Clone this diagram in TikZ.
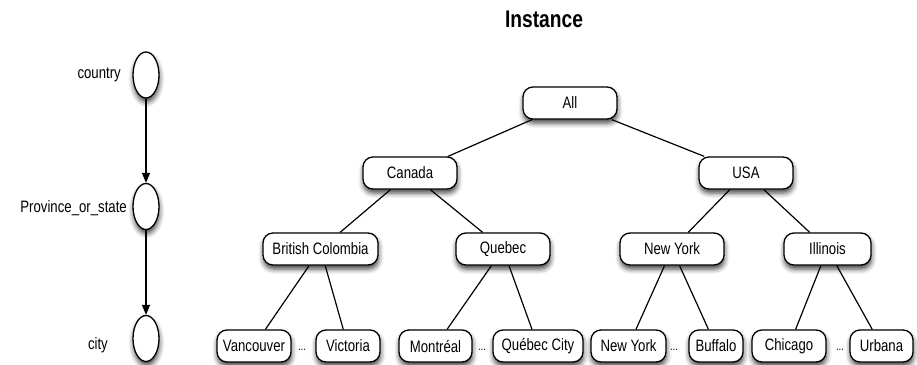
\documentclass[tikz,border=0pt]{standalone}
\usepackage{fontspec}
\setmainfont{Liberation Sans}[FakeStretch=0.8]
\usetikzlibrary{shapes.geometric,shadows.blur,arrows.meta}
\begin{document}
\begin{tikzpicture}[x=1pt,y=-1pt,
  every node/.style={font=\fontsize{16.5}{19}\selectfont, inner sep=0pt},
  soft shadow/.style={blur shadow={shadow xshift=0.5pt, shadow yshift=-4pt, shadow blur radius=5pt, shadow opacity=75}},
  valbox/.style={draw=black, line width=1.3pt, fill=white, rounded corners=10pt,
    minimum height=32pt, soft shadow},
  levelnode/.style={draw=black, line width=1.3pt, fill=white, ellipse,
    minimum width=26pt, minimum height=46pt, soft shadow},
  treeedge/.style={line width=1.2pt},
  levelarrow/.style={line width=1.2pt, -{Triangle[length=10pt,width=8pt]}},
  gap/.style={font=\fontsize{12}{14}\selectfont}
]
\useasboundingbox (0,0) rectangle (917,364);

% title
\node[font=\fontsize{24}{27}\selectfont\bfseries] (title) at (544,19) {Instance};

% schema levels
\node[levelnode] (country) at (146,75) {};
\node[levelnode] (prov) at (146,206.5) {};
\node[levelnode] (city) at (146,338.5) {};
\node[anchor=east] (lcountry) at (121,75) {country};
\node[anchor=east] (lprov) at (127,208) {Province\_or\_state};
\node[anchor=east] (lcity) at (108,345) {city};
\draw[levelarrow] (country) -- (prov);
\draw[levelarrow] (prov) -- (city);

% instance tree
\node[valbox, minimum width=94pt] (all) at (570,103) {All};
\node[valbox, minimum width=94pt] (canada) at (410,173) {Canada};
\node[valbox, minimum width=94pt] (usa) at (746,173) {USA};
\node[valbox, minimum width=115pt] (bc) at (320.5,249) {British Colombia};
\node[valbox, minimum width=94pt] (quebec) at (503,249) {Quebec};
\node[valbox, minimum width=104pt] (ny) at (672,249) {New York};
\node[valbox, minimum width=87pt] (il) at (827.5,249) {Illinois};

\node[valbox, minimum width=74pt] (vancouver) at (254,346) {Vancouver};
\node[valbox, minimum width=64pt] (victoria) at (348,346) {Victoria};
\node[valbox, minimum width=73pt] (montreal) at (435.5,346) {Montréal};
\node[valbox, minimum width=90pt] (quebeccity) at (538,346) {Québec City};
\node[valbox, minimum width=75pt] (nycity) at (628.5,346) {New York};
\node[valbox, minimum width=54pt] (buffalo) at (716,346) {Buffalo};
\node[valbox, minimum width=74pt] (chicago) at (789,346) {Chicago};
\node[valbox, minimum width=63pt] (urbana) at (881.5,346) {Urbana};

\node[gap] (d1) at (302,350) {...};
\node[gap] (d2) at (482,350) {...};
\node[gap] (d3) at (674,350) {...};
\node[gap] (d4) at (840,350) {...};

% hierarchy edges
\draw[treeedge] (all) -- (canada);
\draw[treeedge] (all) -- (usa);
\draw[treeedge] (canada) -- (bc);
\draw[treeedge] (canada) -- (quebec);
\draw[treeedge] (usa) -- (ny);
\draw[treeedge] (usa) -- (il);
\draw[treeedge] (bc) -- (vancouver);
\draw[treeedge] (bc) -- (victoria);
\draw[treeedge] (quebec) -- (montreal);
\draw[treeedge] (quebec) -- (quebeccity);
\draw[treeedge] (ny) -- (nycity);
\draw[treeedge] (ny) -- (buffalo);
\draw[treeedge] (il) -- (chicago);
\draw[treeedge] (il) -- (urbana);
\end{tikzpicture}
\end{document}
